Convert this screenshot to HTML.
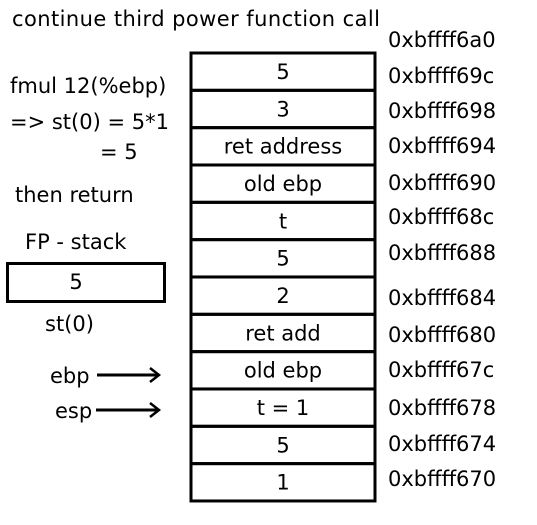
<!DOCTYPE html>
<html><head><meta charset="utf-8"><style>
html,body{margin:0;padding:0;background:#fff;width:537px;height:525px;overflow:hidden}
text{font-family:"DejaVu Sans","Liberation Sans",sans-serif;font-size:21px;fill:#000}
</style></head><body>
<svg width="537" height="525">
<text x="12" y="26" textLength="368">continue third  power function call</text>
<text x="10" y="93">fmul 12(%ebp)</text>
<text x="10" y="129">=&gt; st(0) = 5*1</text>
<text x="100" y="159">= 5</text>
<text x="15" y="202">then return</text>
<text x="25" y="249">FP - stack</text>
<rect x="7.5" y="263.5" width="157" height="38" fill="none" stroke="#000" stroke-width="3"/>
<text x="76" y="289" text-anchor="middle">5</text>
<text x="45" y="331">st(0)</text>
<text x="50" y="383">ebp</text>
<line x1="97" y1="375" x2="158" y2="375" stroke="#000" stroke-width="3"/>
<polyline points="150,368 159,375 150,382" fill="none" stroke="#000" stroke-width="2.5"/>
<text x="55" y="418">esp</text>
<line x1="96" y1="410" x2="158" y2="410" stroke="#000" stroke-width="3"/>
<polyline points="150,403 159,410 150,417" fill="none" stroke="#000" stroke-width="2.5"/>
<g id="stack"></g>
</svg>
<script>
const cells=["5","3","ret address","old ebp","t","5","2","ret add","old ebp","t = 1","5","1"];
const addrs=["0xbffff6a0","0xbffff69c","0xbffff698","0xbffff694","0xbffff690","0xbffff68c","0xbffff688","0xbffff684","0xbffff680","0xbffff67c","0xbffff678","0xbffff674","0xbffff670"];
const addrY=[47,83,118,153,190,224,260,305,342,377,415,451,486];
const g=document.getElementById('stack');
const ns="http://www.w3.org/2000/svg";
const top0=53,h=37.33,L=191,R=375;
cells.forEach((c,i)=>{
 const r=document.createElementNS(ns,'rect');
 r.setAttribute('x',L);r.setAttribute('y',top0+i*h);r.setAttribute('width',R-L);r.setAttribute('height',h);
 r.setAttribute('fill','none');r.setAttribute('stroke','#000');r.setAttribute('stroke-width','3');
 
 
 g.appendChild(r);
 const t=document.createElementNS(ns,'text');
 t.setAttribute('x',(L+R)/2);t.setAttribute('y',top0+i*h+26);t.setAttribute('text-anchor','middle');
 t.textContent=c;
 
 
 g.appendChild(t);
});
addrs.forEach((a,i)=>{
 const t=document.createElementNS(ns,'text');
 t.setAttribute('x',388);t.setAttribute('y',addrY[i]);
 t.textContent=a;
 
 
 g.appendChild(t);
});
</script>
</body></html>
